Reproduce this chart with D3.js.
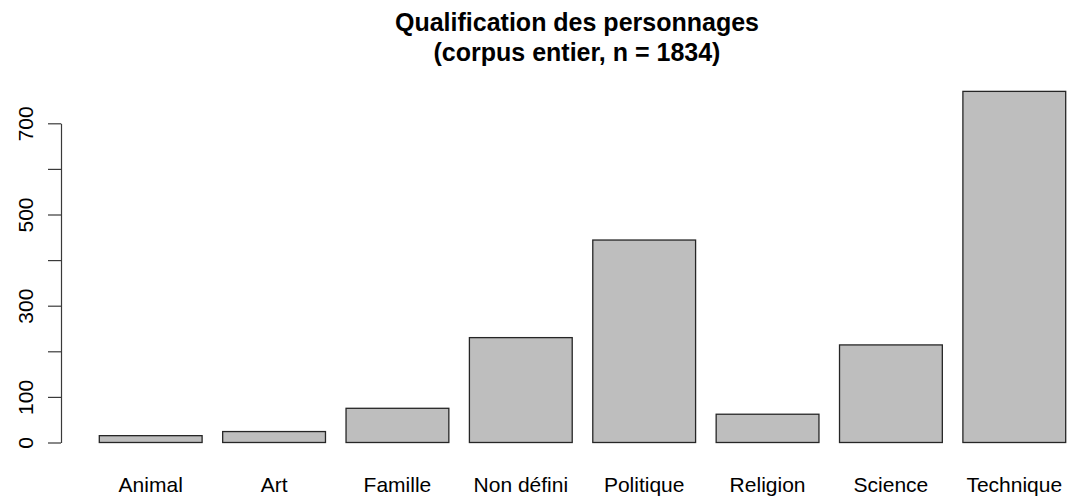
<!DOCTYPE html>
<html>
<head>
<meta charset="utf-8">
<script src="https://cdn.jsdelivr.net/npm/d3@7"></script>
<style>
  html, body { margin: 0; padding: 0; background: #fff; }
  svg { display: block; font-family: "Liberation Sans", Arial, sans-serif; }
</style>
</head>
<body>
<svg id="chart" width="1068" height="497"></svg>
<script>
const categories = ['Animal', 'Art', 'Famille', 'Non défini', 'Politique', 'Religion', 'Science', 'Technique'];
const counts = [15, 24, 75, 230, 444, 62, 214, 770];
const yTicks = [0, 100, 200, 300, 400, 500, 600, 700];
const yTickLabels = ['0', '100', '', '300', '', '500', '', '700'];
const titleLines = ['Qualification des personnages', '(corpus entier, n = 1834)'];

const svg = d3.select('#chart');

const xScale = d3.scaleBand()
  .domain(categories)
  .range([99.3, 1065.7])
  .paddingInner(0.2 / 1.2)
  .paddingOuter(0);

const yScale = d3.scaleLinear()
  .domain([0, 700])
  .range([442.5, 123.3]);

// bars
svg.append('g')
  .selectAll('rect')
  .data(categories)
  .enter()
  .append('rect')
  .attr('x', (d) => xScale(d))
  .attr('y', (d, i) => yScale(counts[i]))
  .attr('width', xScale.bandwidth())
  .attr('height', (d, i) => yScale(0) - yScale(counts[i]))
  .style('fill', '#bebebe')
  .style('stroke', '#262626')
  .style('stroke-width', 1.3);

// y axis, R style: line only over the tick range, rotated labels
const yAxis = svg.append('g')
  .attr('transform', 'translate(61, 0)')
  .call(d3.axisLeft(yScale)
    .tickValues(yTicks)
    .tickSize(13)
    .tickSizeOuter(0)
    .tickFormat((d, i) => yTickLabels[i]));

yAxis.selectAll('path, line')
  .style('stroke', '#3a3a3a')
  .style('stroke-width', 1.2);

yAxis.selectAll('text')
  .attr('transform', 'rotate(-90)')
  .attr('x', 0)
  .attr('y', -28)
  .attr('dy', 0)
  .style('text-anchor', 'middle')
  .style('font-family', '"Liberation Sans", Arial, sans-serif')
  .style('font-size', '21px')
  .style('fill', '#000');

// x labels, no axis line
const xAxis = svg.append('g')
  .attr('transform', 'translate(0, 442.5)')
  .call(d3.axisBottom(xScale).tickSize(0));

xAxis.select('.domain').remove();
xAxis.selectAll('text')
  .attr('y', 49.5)
  .attr('dy', 0)
  .style('font-family', '"Liberation Sans", Arial, sans-serif')
  .style('font-size', '21px')
  .style('fill', '#000');

// title
svg.append('g')
  .selectAll('text')
  .data(titleLines)
  .enter()
  .append('text')
  .attr('x', 577)
  .attr('y', (d, i) => 31 + i * 30)
  .attr('text-anchor', 'middle')
  .style('font-weight', 'bold')
  .style('font-size', '25px')
  .text((d) => d);
</script>
</body>
</html>
